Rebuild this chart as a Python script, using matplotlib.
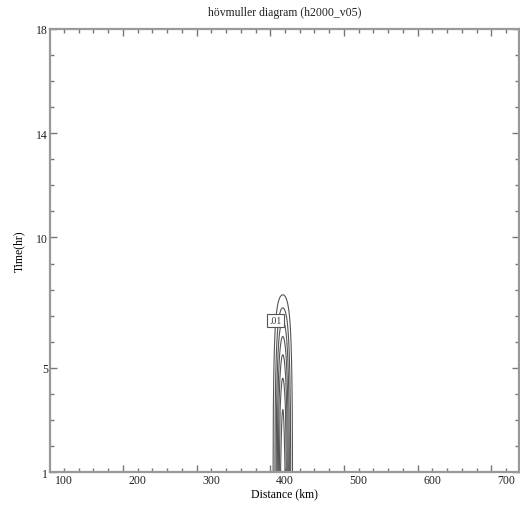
import numpy as np
import matplotlib

matplotlib.use("Agg")
import matplotlib.pyplot as plt
from matplotlib.ticker import FixedLocator, FuncFormatter, NullFormatter

# plume centre / width along the track (km)
plume_center_km = 397.0
plume_sigma_km = 6.5

# centre-line concentration through time (hr)
time_hr = [1.0, 3.4, 4.6, 5.5, 6.2, 6.8, 7.3, 7.8, 8.3, 9.0]
peak_conc = [0.078, 0.07, 0.06, 0.05, 0.04, 0.03, 0.02, 0.01, 0.0, 0.0]

levels = [0.01, 0.02, 0.03, 0.04, 0.05, 0.06, 0.07]

x_labels = [100, 200, 300, 400, 500, 600, 700]
y_labels = [1, 5, 10, 14, 18]

plt.rcParams["font.family"] = ["Liberation Serif", "DejaVu Serif"]
plt.rcParams["text.color"] = "#222222"

fig = plt.figure(figsize=(5.2, 5.06), dpi=100)
ax = fig.add_axes([50 / 520, 1 - 473 / 506, 469 / 520, 443 / 506])

# hovmoller field: gaussian across the track, centre value from peak_conc
xg = np.linspace(81, 717.6, 1600)
tg = np.linspace(1, 18, 900)
X, T = np.meshgrid(xg, tg)
peak = np.interp(tg, time_hr, peak_conc, right=0.0)[:, None]
field = peak * np.exp(-((X - plume_center_km) ** 2) / (2 * plume_sigma_km ** 2))

ax.contour(X, T, field, levels=levels, colors="#555555", linewidths=0.8)
ax.text(387, 6.8, f"{levels[0]:.2f}".lstrip("0"), fontsize=7, ha="center", va="center",
        color="#333333",
        bbox=dict(boxstyle="square,pad=0.2", fc="white", ec="#555555", lw=0.8))

ax.set_xlim(81, 717.6)
ax.set_ylim(1, 18)

# x: labels every 100 on the minor grid, longer ticks offset at 180, 280, ...
ax.xaxis.set_major_locator(FixedLocator(np.arange(180, 700, 100)))
ax.xaxis.set_major_formatter(NullFormatter())
ax.xaxis.set_minor_locator(FixedLocator(np.arange(100, 720, 20)))
ax.xaxis.set_minor_formatter(
    FuncFormatter(lambda v, p: f"{int(round(v))}" if int(round(v)) in x_labels else ""))

ax.yaxis.set_major_locator(FixedLocator(y_labels))
ax.yaxis.set_minor_locator(FixedLocator(np.arange(1, 19, 1)))

ax.tick_params(which="both", direction="in", top=True, right=True,
               color="#777777", width=1.0, labelsize=8.5, pad=1.5,
               labelcolor="#222222")
ax.tick_params(which="major", length=5)
ax.tick_params(which="minor", length=3)

for s in ax.spines.values():
    s.set_color("#999999")
    s.set_linewidth(1.6)

ax.set_title("hövmuller diagram (h2000_v05)", fontsize=8.5, pad=10)
ax.set_xlabel("Distance (km)", fontsize=8.5, labelpad=1)
ax.set_ylabel("Time(hr)", fontsize=8.5, labelpad=8)

fig.savefig("out.png", dpi=100)
